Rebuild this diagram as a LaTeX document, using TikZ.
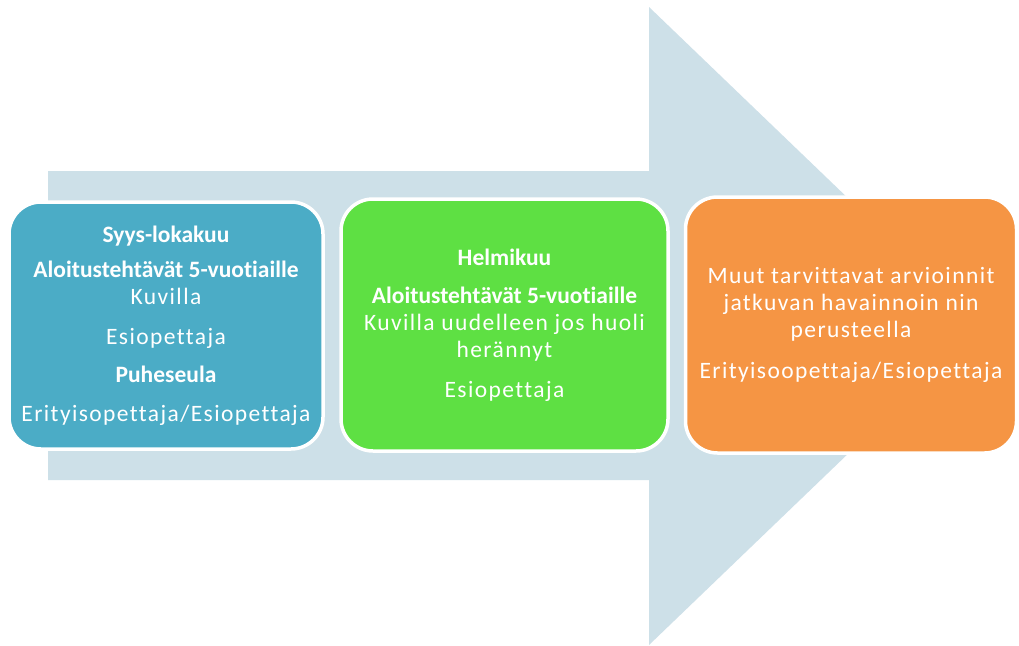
\documentclass[tikz,border=0pt]{standalone}
\usepackage{fontspec}
\setmainfont{Carlito}[Ligatures=NoCommon]
\newfontfamily\regfont[LetterSpace=6,Ligatures=NoCommon]{Carlito}
\definecolor{arrowfill}{RGB}{205,224,232}
\definecolor{boxblue}{RGB}{75,172,198}
\definecolor{boxgreen}{RGB}{94,224,67}
\definecolor{boxorange}{RGB}{245,149,68}
\tikzset{
  stagebox/.style={draw=white, line width=3.5pt, rounded corners=32pt,
    inner sep=0pt, align=center, text=white,
    font=\fontsize{23.5}{27}\selectfont}
}
\begin{document}
\begin{tikzpicture}[x=1pt,y=-1pt]
\useasboundingbox (0,0) rectangle (1019,645);
\fill[white] (0,0) rectangle (1019,645);
% big arrow
\fill[arrowfill] (48,171) -- (649,171) -- (649,7) -- (981,326) -- (649,645)
  -- (649,480) -- (48,480) -- cycle;
% boxes
\node[stagebox, fill=boxblue, minimum width=314pt, minimum height=247pt]
  (b1) at (166,325.5) {\textbf{Syys-lokakuu}\\[8pt]
  \textbf{Aloitustehtävät 5-vuotiaille}\\
  {\regfont Kuvilla}\\[13pt]
  {\regfont Esiopettaja}\\[11pt]
  \textbf{Puheseula}\\[12pt]
  {\regfont Erityisopettaja/Esiopettaja}};
\node[stagebox, fill=boxgreen, minimum width=327pt, minimum height=252pt]
  (b2) at (504.5,325) {\textbf{Helmikuu}\\[11pt]
  \textbf{Aloitustehtävät 5-vuotiaille}\\
  {\regfont Kuvilla uudelleen jos huoli}\\
  {\regfont herännyt}\\[13pt]
  {\regfont Esiopettaja}};
\node[stagebox, fill=boxorange, minimum width=331pt, minimum height=256pt]
  (b3) at (851,325) {{\regfont Muut tarvittavat arvioinnit}\\
  {\regfont jatkuvan havainnoin nin}\\
  {\regfont perusteella}\\[14pt]
  {\regfont Erityisoopettaja/Esiopettaja}};
\end{tikzpicture}
\end{document}
